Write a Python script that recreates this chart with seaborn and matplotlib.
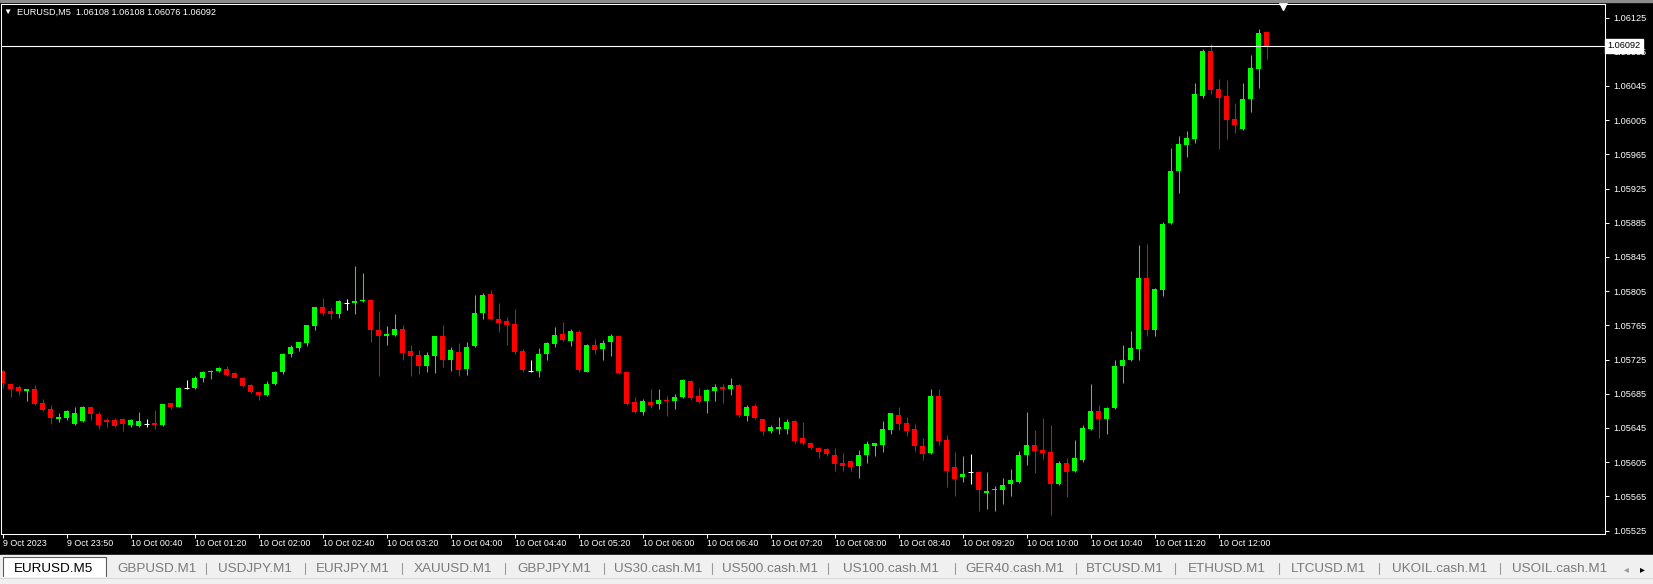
import numpy as np
import pandas as pd
import matplotlib
matplotlib.use('Agg')
import matplotlib.pyplot as plt
from matplotlib.patches import Rectangle
from matplotlib.lines import Line2D
import seaborn as sns

# EURUSD M5 bars (oldest first)
symbol = 'EURUSD,M5'

opens = [
    1.05712, 1.05696, 1.05693, 1.05688, 1.05690, 1.05674, 1.05667, 1.05655, 1.05657, 1.05650,
    1.05653, 1.05669, 1.05661, 1.05654, 1.05654, 1.05656, 1.05649, 1.05647, 1.05650, 1.05651,
    1.05649, 1.05674, 1.05670, 1.05692, 1.05692, 1.05704, 1.05710, 1.05712, 1.05714, 1.05709,
    1.05704, 1.05695, 1.05687, 1.05683, 1.05696, 1.05710, 1.05731, 1.05738, 1.05744, 1.05764,
    1.05787, 1.05782, 1.05778, 1.05791, 1.05791, 1.05793, 1.05795, 1.05759, 1.05752, 1.05754,
    1.05761, 1.05735, 1.05730, 1.05717, 1.05729, 1.05752, 1.05725, 1.05734, 1.05714, 1.05741,
    1.05780, 1.05802, 1.05773, 1.05770, 1.05767, 1.05735, 1.05712, 1.05712, 1.05731, 1.05743,
    1.05755, 1.05747, 1.05757, 1.05711, 1.05742, 1.05737, 1.05745, 1.05752, 1.05710, 1.05675,
    1.05664, 1.05675, 1.05673, 1.05678, 1.05676, 1.05681, 1.05700, 1.05682, 1.05676, 1.05688,
    1.05693, 1.05691, 1.05695, 1.05659, 1.05671, 1.05655, 1.05642, 1.05644, 1.05644, 1.05653,
    1.05633, 1.05628, 1.05622, 1.05620, 1.05613, 1.05604, 1.05606, 1.05600, 1.05613, 1.05624,
    1.05625, 1.05643, 1.05660, 1.05651, 1.05644, 1.05624, 1.05616, 1.05682, 1.05631, 1.05599,
    1.05588, 1.05593, 1.05594, 1.05569, 1.05572, 1.05572, 1.05580, 1.05582, 1.05613, 1.05625,
    1.05619, 1.05617, 1.05579, 1.05604, 1.05595, 1.05608, 1.05644, 1.05665, 1.05655, 1.05668,
    1.05718, 1.05724, 1.05737, 1.05820, 1.05760, 1.05806, 1.05885, 1.05945, 1.05976, 1.05983,
    1.06033, 1.06086, 1.06041, 1.06033, 1.06006, 1.05995, 1.06030, 1.06065, 1.06108,
]
highs = [
    1.05713, 1.05697, 1.05695, 1.05690, 1.05695, 1.05679, 1.05672, 1.05662, 1.05666, 1.05669,
    1.05671, 1.05670, 1.05664, 1.05657, 1.05657, 1.05657, 1.05655, 1.05664, 1.05655, 1.05666,
    1.05673, 1.05674, 1.05693, 1.05701, 1.05706, 1.05712, 1.05713, 1.05716, 1.05718, 1.05710,
    1.05705, 1.05696, 1.05688, 1.05700, 1.05712, 1.05733, 1.05742, 1.05746, 1.05766, 1.05787,
    1.05797, 1.05785, 1.05795, 1.05796, 1.05834, 1.05826, 1.05796, 1.05782, 1.05764, 1.05778,
    1.05766, 1.05742, 1.05736, 1.05734, 1.05753, 1.05765, 1.05740, 1.05744, 1.05745, 1.05800,
    1.05803, 1.05806, 1.05791, 1.05775, 1.05784, 1.05737, 1.05725, 1.05738, 1.05745, 1.05763,
    1.05769, 1.05761, 1.05759, 1.05743, 1.05749, 1.05748, 1.05755, 1.05753, 1.05711, 1.05681,
    1.05679, 1.05690, 1.05690, 1.05682, 1.05685, 1.05702, 1.05701, 1.05692, 1.05690, 1.05696,
    1.05696, 1.05703, 1.05696, 1.05672, 1.05673, 1.05656, 1.05649, 1.05658, 1.05655, 1.05654,
    1.05652, 1.05629, 1.05623, 1.05622, 1.05622, 1.05616, 1.05607, 1.05619, 1.05630, 1.05628,
    1.05653, 1.05663, 1.05669, 1.05658, 1.05650, 1.05633, 1.05691, 1.05691, 1.05637, 1.05617,
    1.05612, 1.05615, 1.05595, 1.05593, 1.05577, 1.05587, 1.05597, 1.05618, 1.05664, 1.05643,
    1.05657, 1.05648, 1.05606, 1.05610, 1.05631, 1.05648, 1.05696, 1.05672, 1.05670, 1.05725,
    1.05742, 1.05758, 1.05859, 1.05860, 1.05809, 1.05886, 1.05972, 1.05986, 1.05992, 1.06049,
    1.06088, 1.06094, 1.06053, 1.06052, 1.06025, 1.06049, 1.06081, 1.06111, 1.06108,
]
lows = [
    1.05692, 1.05681, 1.05683, 1.05677, 1.05672, 1.05665, 1.05650, 1.05652, 1.05654, 1.05649,
    1.05652, 1.05654, 1.05644, 1.05646, 1.05646, 1.05642, 1.05646, 1.05646, 1.05646, 1.05644,
    1.05647, 1.05667, 1.05669, 1.05690, 1.05691, 1.05699, 1.05702, 1.05710, 1.05706, 1.05703,
    1.05693, 1.05686, 1.05678, 1.05682, 1.05695, 1.05708, 1.05728, 1.05735, 1.05741, 1.05759,
    1.05777, 1.05773, 1.05774, 1.05783, 1.05778, 1.05792, 1.05746, 1.05706, 1.05742, 1.05752,
    1.05724, 1.05706, 1.05708, 1.05711, 1.05709, 1.05716, 1.05712, 1.05706, 1.05707, 1.05740,
    1.05773, 1.05771, 1.05757, 1.05742, 1.05732, 1.05711, 1.05710, 1.05705, 1.05724, 1.05740,
    1.05747, 1.05741, 1.05711, 1.05710, 1.05731, 1.05724, 1.05729, 1.05708, 1.05672, 1.05663,
    1.05660, 1.05668, 1.05667, 1.05659, 1.05667, 1.05680, 1.05678, 1.05674, 1.05663, 1.05676,
    1.05674, 1.05683, 1.05658, 1.05653, 1.05656, 1.05637, 1.05639, 1.05638, 1.05638, 1.05628,
    1.05625, 1.05620, 1.05610, 1.05612, 1.05595, 1.05595, 1.05595, 1.05587, 1.05604, 1.05612,
    1.05617, 1.05638, 1.05643, 1.05636, 1.05618, 1.05607, 1.05615, 1.05625, 1.05576, 1.05565,
    1.05582, 1.05579, 1.05548, 1.05550, 1.05548, 1.05556, 1.05566, 1.05581, 1.05602, 1.05592,
    1.05609, 1.05543, 1.05578, 1.05564, 1.05594, 1.05605, 1.05643, 1.05633, 1.05638, 1.05667,
    1.05698, 1.05723, 1.05724, 1.05753, 1.05752, 1.05799, 1.05884, 1.05920, 1.05962, 1.05978,
    1.06031, 1.06035, 1.05971, 1.05983, 1.05990, 1.05994, 1.06014, 1.06042, 1.06076,
]
closes = [
    1.05698, 1.05691, 1.05688, 1.05690, 1.05673, 1.05666, 1.05657, 1.05658, 1.05665, 1.05662,
    1.05670, 1.05661, 1.05649, 1.05652, 1.05647, 1.05650, 1.05654, 1.05653, 1.05650, 1.05649,
    1.05673, 1.05669, 1.05692, 1.05692, 1.05704, 1.05711, 1.05712, 1.05715, 1.05707, 1.05704,
    1.05694, 1.05687, 1.05684, 1.05696, 1.05711, 1.05732, 1.05740, 1.05745, 1.05765, 1.05786,
    1.05780, 1.05778, 1.05793, 1.05791, 1.05793, 1.05795, 1.05759, 1.05752, 1.05755, 1.05761,
    1.05733, 1.05729, 1.05717, 1.05730, 1.05752, 1.05725, 1.05736, 1.05713, 1.05740, 1.05780,
    1.05800, 1.05772, 1.05768, 1.05765, 1.05734, 1.05713, 1.05712, 1.05731, 1.05744, 1.05754,
    1.05748, 1.05758, 1.05713, 1.05742, 1.05736, 1.05744, 1.05752, 1.05709, 1.05673, 1.05664,
    1.05676, 1.05672, 1.05678, 1.05676, 1.05681, 1.05701, 1.05680, 1.05675, 1.05689, 1.05693,
    1.05690, 1.05695, 1.05660, 1.05670, 1.05657, 1.05642, 1.05646, 1.05646, 1.05652, 1.05630,
    1.05627, 1.05621, 1.05617, 1.05615, 1.05603, 1.05601, 1.05599, 1.05613, 1.05626, 1.05627,
    1.05644, 1.05662, 1.05650, 1.05641, 1.05624, 1.05615, 1.05682, 1.05630, 1.05595, 1.05585,
    1.05591, 1.05593, 1.05572, 1.05571, 1.05574, 1.05578, 1.05584, 1.05613, 1.05625, 1.05618,
    1.05616, 1.05580, 1.05604, 1.05594, 1.05610, 1.05645, 1.05665, 1.05655, 1.05668, 1.05718,
    1.05725, 1.05738, 1.05820, 1.05759, 1.05807, 1.05884, 1.05945, 1.05977, 1.05984, 1.06035,
    1.06086, 1.06040, 1.06031, 1.06005, 1.05999, 1.06030, 1.06066, 1.06107, 1.06092,
]

# time axis: bar index of each label
time_tick_bars = [0, 8, 16, 24, 32, 40, 48, 56, 64, 72, 80, 88, 96, 104, 112, 120, 128, 136, 144, 152]
time_tick_labels = ['9 Oct 2023', '9 Oct 23:50', '10 Oct 00:40', '10 Oct 01:20', '10 Oct 02:00',
                    '10 Oct 02:40', '10 Oct 03:20', '10 Oct 04:00', '10 Oct 04:40', '10 Oct 05:20',
                    '10 Oct 06:00', '10 Oct 06:40', '10 Oct 07:20', '10 Oct 08:00', '10 Oct 08:40',
                    '10 Oct 09:20', '10 Oct 10:00', '10 Oct 10:40', '10 Oct 11:20', '10 Oct 12:00']
price_ticks = [1.05525, 1.05565, 1.05605, 1.05645, 1.05685, 1.05725, 1.05765, 1.05805,
               1.05845, 1.05885, 1.05925, 1.05965, 1.06005, 1.06045, 1.06085, 1.06125]

tabs = ['EURUSD.M5', 'GBPUSD.M1', 'USDJPY.M1', 'EURJPY.M1', 'XAUUSD.M1', 'GBPJPY.M1',
        'US30.cash.M1', 'US500.cash.M1', 'US100.cash.M1', 'GER40.cash.M1', 'BTCUSD.M1',
        'ETHUSD.M1', 'LTCUSD.M1', 'UKOIL.cash.M1', 'USOIL.cash.M1']

df = pd.DataFrame({'open': opens, 'high': highs, 'low': lows, 'close': closes})
df['bar'] = np.arange(len(df))
df['colour'] = np.select([df['close'] > df['open'], df['close'] < df['open']],
                         ['#00ff00', '#ff0000'], 'white')
last = df.iloc[-1]

sns.set_theme(style='dark', rc={'axes.facecolor': 'black', 'figure.facecolor': 'black',
                                'axes.edgecolor': 'white', 'axes.grid': False})
plt.rcParams['font.family'] = ['Liberation Sans', 'DejaVu Sans']

W, H = 1653, 584
fig = plt.figure(figsize=(W / 100, H / 100), dpi=100)
ax = fig.add_axes([0.5 / W, 50 / H, 1604.5 / W, 530.5 / H])

# wicks, bodies and doji crosses
ax.vlines(df['bar'], df['low'], df['high'], colors=df['colour'], linewidth=0.75)
body = df[df['colour'] != 'white']
ax.bar(body['bar'], np.maximum((body['close'] - body['open']).abs(), 0.000012),
       bottom=np.minimum(body['open'], body['close']), width=0.62,
       color=body['colour'], linewidth=0)
doji = df[df['colour'] == 'white']
ax.hlines(doji['close'], doji['bar'] - 0.3, doji['bar'] + 0.3, colors='white', linewidth=0.75)

# current bid line
ax.axhline(last['close'], color='white', linewidth=0.8)

ax.set_xlim(-0.25, 200.3)
ax.set_ylim(1.05521, 1.061414)

ax.yaxis.tick_right()
ax.set_yticks(price_ticks, [f'{p:.5f}' for p in price_ticks])
ax.set_xticks(time_tick_bars, time_tick_labels)
plt.setp(ax.get_xticklabels(), ha='left')
ax.tick_params(axis='y', right=True, left=False, direction='out', length=3, width=0.75,
               pad=3, labelsize=6.6, colors='white')
ax.tick_params(axis='x', bottom=True, direction='out', length=3, width=0.75,
               pad=0.8, labelsize=6.4, colors='white')
for s in ax.spines.values():
    s.set_visible(True)
    s.set_color('white')
    s.set_linewidth(0.75)

# price tag on the scale
ax.text(1.0015, last['close'], f"{last['close']:.5f}", transform=ax.get_yaxis_transform(),
        ha='left', va='center', fontsize=6.6, color='black', zorder=10, clip_on=False,
        bbox=dict(boxstyle='square,pad=0.25', fc='white', ec='white'))

# chart shift marker
ax.plot([160], [1 - 2.5 / 530.5], marker='v', color='white', markersize=6,
        transform=ax.get_xaxis_transform(), clip_on=False)

# header
fig.text(7 / W, 1 - 12 / H, '▼', color='white', fontsize=6, ha='center', va='center')
fig.text(17 / W, 1 - 12.5 / H,
         f"{symbol}  {last['open']:.5f} {last['high']:.5f} {last['low']:.5f} {last['close']:.5f}",
         color='white', fontsize=6.6, va='center')
fig.add_artist(Rectangle((0, 1 - 2 / H), 1, 2 / H, transform=fig.transFigure,
                         color='#8c8c8c', zorder=5))

# tab bar
fig.add_artist(Rectangle((0, 0), 1, 29 / H, transform=fig.transFigure, color='#f0f0f0'))
fig.add_artist(Line2D([0, 1], [6 / H, 6 / H], transform=fig.transFigure, color='#dadada', lw=0.8))
fig.add_artist(Rectangle((3 / W, 8 / H), 103 / W, 19 / H, transform=fig.transFigure, color='white'))
fig.add_artist(Line2D([3 / W, 3 / W, 106 / W, 106 / W], [8 / H, 27 / H, 27 / H, 8 / H],
                      transform=fig.transFigure, color='#5a5a5a', lw=0.8))
tab_x = [54, 157, 255, 353, 453, 554, 658, 770, 891, 1015, 1125, 1227, 1329, 1440, 1560]
sep_x = [206, 305, 402, 505, 604, 712, 828, 955, 1076, 1175, 1279, 1379, 1500]
for name, x in zip(tabs, tab_x):
    fig.text(x / W, 15 / H, name, ha='center', va='center', fontsize=9.7,
             color='black' if name == tabs[0] else '#7a7a7a')
for x in sep_x:
    fig.add_artist(Line2D([x / W, x / W], [10 / H, 21 / H], transform=fig.transFigure,
                          color='#9a9a9a', lw=0.8))
fig.text(1626 / W, 15 / H, '◂', ha='center', va='center', fontsize=7, color='#9a9a9a')
fig.text(1642 / W, 15 / H, '▸', ha='center', va='center', fontsize=7, color='black')

fig.savefig('out.png', dpi=100, facecolor=fig.get_facecolor())
